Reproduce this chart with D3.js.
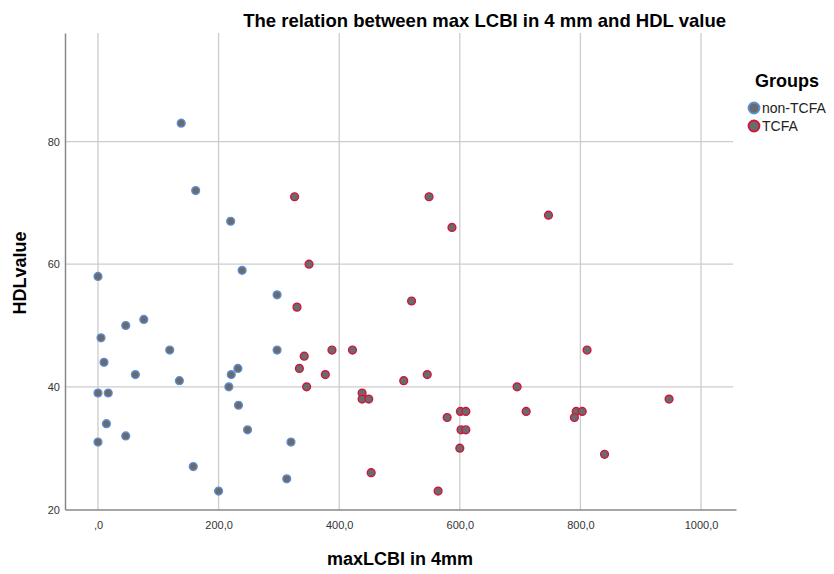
<!DOCTYPE html>
<meta charset="utf-8">
<title>The relation between max LCBI in 4 mm and HDL value</title>
<style>
    body { margin: 0; background: #fff; }
    text { font-family: "Liberation Sans", Arial, sans-serif; }
    .tick text { font-size: 11px; fill: #333; }
    .grid line { stroke: #cccccc; stroke-width: 1.3; }
</style>

<svg width="834" height="574"></svg>
<script src="https://d3js.org/d3.v7.min.js"></script>
<script>

    // non-TCFA group
    var nonX = [138, 162, 220, 239, 0, 297, 76, 46, 5, 119, 297, 10, 62, 232, 221, 135, 217, 0, 17, 233, 14, 248, 46, 0, 320, 158, 313, 200];
    var nonY = [83, 72, 67, 59, 58, 55, 51, 50, 48, 46, 46, 44, 42, 43, 42, 41, 40, 39, 39, 37, 34, 33, 32, 31, 31, 27, 25, 23];

    // TCFA group
    var tcfaX = [326, 549, 587, 747, 350, 520, 330, 388, 422, 342, 334, 377, 507, 546, 346, 695, 438, 438, 449, 811,
                 601, 610, 710, 793, 803, 790, 579, 602, 610, 600, 840, 453, 564, 947];
    var tcfaY = [71, 71, 66, 68, 60, 54, 53, 46, 46, 45, 43, 42, 41, 42, 40, 40, 39, 38, 38, 46,
                 36, 36, 36, 36, 36, 35, 35, 33, 33, 30, 29, 26, 23, 38];

    var groups = ["non-TCFA", "TCFA"];
    var xTicks = [0, 200, 400, 600, 800, 1000];
    var yTicks = [20, 40, 60, 80];

    var svg = d3.select("svg");

    var x = d3.scaleLinear().domain([-54.7, 1058]).range([65, 736]);
    var y = d3.scaleLinear().domain([20, 97.7]).range([509.5, 33]);

    var stroke = d3.scaleOrdinal().domain(groups).range(["#5b8fd8", "#d1163e"]);

    var fmt = function(v) { return v === 0 ? ",0" : v + ",0"; };

    // grid lines
    svg.append("g").attr("class", "grid")
        .selectAll("line").data(xTicks).enter().append("line")
            .attr("x1", d => x(d)).attr("x2", d => x(d))
            .attr("y1", 33).attr("y2", 509.5);

    svg.append("g").attr("class", "grid")
        .selectAll("line").data(yTicks.slice(1)).enter().append("line")
            .attr("x1", 65).attr("x2", 733)
            .attr("y1", d => y(d)).attr("y2", d => y(d));

    // axes
    var xAxis = svg.append("g")
        .attr("transform", "translate(0,509.5)")
        .call(d3.axisBottom(x).tickValues(xTicks).tickFormat(fmt).tickSize(0).tickPadding(12));
    xAxis.select(".domain").attr("stroke", "#888").attr("stroke-width", 1.5);

    var yAxis = svg.append("g")
        .attr("transform", "translate(65,0)")
        .call(d3.axisLeft(y).tickValues(yTicks).tickSize(0).tickPadding(5));
    yAxis.select(".domain").attr("stroke", "#888").attr("stroke-width", 1.5);

    // points
    function drawGroup(xs, ys, g) {
        svg.append("g").selectAll("circle")
            .data(xs.map((d, i) => ({x: d, y: ys[i]})))
            .enter().append("circle")
                .attr("cx", d => x(d.x))
                .attr("cy", d => y(d.y))
                .attr("r", 3.9)
                .attr("fill", "#6b6b6b")
                .attr("stroke", stroke(g))
                .attr("stroke-width", 1.4);
    }
    drawGroup(nonX, nonY, "non-TCFA");
    drawGroup(tcfaX, tcfaY, "TCFA");

    // titles
    svg.append("text")
        .attr("x", 726).attr("y", 27)
        .attr("text-anchor", "end")
        .style("font-size", "18.5px").style("font-weight", "bold")
        .text("The relation between max LCBI in 4 mm and HDL value");

    svg.append("text")
        .attr("x", 400).attr("y", 565)
        .attr("text-anchor", "middle")
        .style("font-size", "18px").style("font-weight", "bold")
        .text("maxLCBI in 4mm");

    svg.append("text")
        .attr("transform", "translate(26,273) rotate(-90)")
        .attr("text-anchor", "middle")
        .style("font-size", "18px").style("font-weight", "bold")
        .text("HDLvalue");

    // legend
    var legend = svg.append("g");
    legend.append("text")
        .attr("x", 755).attr("y", 87)
        .style("font-size", "18px").style("font-weight", "bold")
        .text("Groups");

    var item = legend.selectAll(".item").data(groups).enter().append("g")
        .attr("transform", (d, i) => "translate(0," + (108 + i * 18) + ")");
    item.append("circle")
        .attr("cx", 754).attr("cy", 0).attr("r", 5.5)
        .attr("fill", "#6b6b6b")
        .attr("stroke", d => stroke(d))
        .attr("stroke-width", 1.8);
    item.append("text")
        .attr("x", 762).attr("y", 5)
        .style("font-size", "14px").style("fill", "#222")
        .text(d => d);

</script>
